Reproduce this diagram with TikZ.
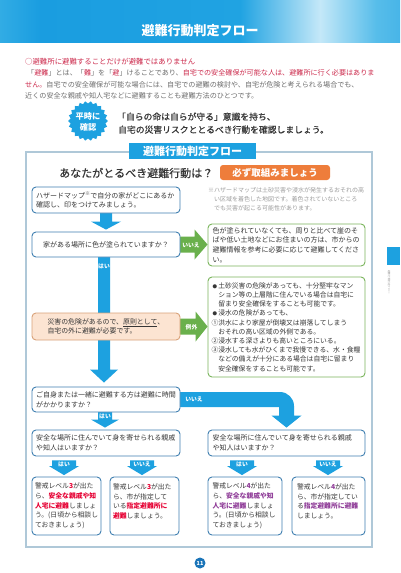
\documentclass[tikz,border=0pt]{standalone}
\usepackage{fontspec}
\setmainfont{Noto Sans CJK JP}
\newfontfamily\jpmed[FakeBold=0.6]{Noto Sans CJK JP}
\usetikzlibrary{shapes.geometric,calc}
\pgfdeclarelayer{bgzero}
\pgfdeclarelayer{background}
\pgfsetlayers{bgzero,background,main}
\definecolor{cyanA}{HTML}{1DA1E0}
\definecolor{boxblue}{HTML}{3F7FB0}
\definecolor{frameblue}{HTML}{AFC8D8}
\definecolor{greenA}{HTML}{6AB04C}
\definecolor{greenB}{HTML}{7AB55C}
\definecolor{orangeA}{HTML}{EE7D3B}
\definecolor{peach}{HTML}{FCE4D2}
\definecolor{peachline}{HTML}{D9A27A}
\definecolor{redT}{HTML}{CC2A4C}
\definecolor{redL}{HTML}{E60033}
\definecolor{purp}{HTML}{8F3C98}
\definecolor{grayT}{HTML}{6E6E6E}
\definecolor{darkT}{HTML}{363636}
\definecolor{noteT}{HTML}{9C9C9C}
\definecolor{pagebl}{HTML}{1A74B8}
\definecolor{bnA}{HTML}{2AAAE2}
\definecolor{bnB}{HTML}{6CC6EE}
\definecolor{bnC}{HTML}{E4F5FC}
\definecolor{bnD}{HTML}{3BB2E6}
\definecolor{bnE}{HTML}{1A9DE0}
\definecolor{bnF}{HTML}{20A3E2}
\definecolor{bnG}{HTML}{C4E8F8}
\definecolor{bnH}{HTML}{57BDEA}
\definecolor{bnI}{HTML}{7CCDF1}
\pgfdeclarehorizontalshading{bannershade}{100bp}{color(0bp)=(bnA); color(12bp)=(bnB); color(18bp)=(bnC); color(23bp)=(bnD); color(30bp)=(bnE); color(55bp)=(bnF); color(65bp)=(bnG); color(72bp)=(bnH); color(84bp)=(bnE); color(100bp)=(bnI)}
\newcommand\txr[1]{\textcolor{redT}{#1}}
\newcommand\txlr[1]{\textcolor{redL}{\bfseries #1}}
\newcommand\txlrb[1]{\textcolor{redL}{\bfseries #1}}
\newcommand\txp[1]{\textcolor{purp}{\bfseries #1}}
\newcommand\txpb[1]{\textcolor{purp}{\bfseries #1}}
% down block arrow: color, from, to, x offset, stem half, head half, head length, gap above tip, gap below source
\newcommand\dnarr[9]{%
 \fill[#1] let \p1=(#2.south), \p2=(#3.north) in
 ({\x2+#4-#5},{\y1-#9}) -- ({\x2+#4+#5},{\y1-#9}) -- ({\x2+#4+#5},{\y2+#8+#7}) -- ({\x2+#4+#6},{\y2+#8+#7}) -- ({\x2+#4},{\y2+#8}) -- ({\x2+#4-#6},{\y2+#8+#7}) -- ({\x2+#4-#5},{\y2+#8+#7}) -- cycle;}
% right block arrow: color, from, to, stem half, head half, head length
\newcommand\rtarr[6]{%
 \fill[#1] let \p1=(#2.east), \p2=(#3.west) in
 ({\x1-1pt},{\y1+#4}) -- ({\x2-#6},{\y1+#4}) -- ({\x2-#6},{\y1+#5}) -- (\x2,\y1) -- ({\x2-#6},{\y1-#5}) -- ({\x2-#6},{\y1-#4}) -- ({\x1-1pt},{\y1-#4}) -- cycle;}
\begin{document}
\begin{tikzpicture}[x=1pt,y=-1pt,
 flowbox/.style={draw=boxblue, line width=0.9pt, rounded corners=4pt, fill=white, inner ysep=0pt, align=left, text=darkT, font=\fontsize{7}{9.8}\selectfont},
 sixbox/.style={flowbox, minimum height=58pt, font=\fontsize{6.8}{9.7}\selectfont},
 lbl/.style={text=white, inner sep=0pt, font=\bfseries\fontsize{5.8}{5.8}\selectfont},
 ptext/.style={anchor=base west, inner sep=0pt, text=grayT, font=\fontsize{7.1}{7.1}\selectfont},
 ]
\useasboundingbox (0,0) rectangle (400,573);
\begin{pgfonlayer}{bgzero}
\fill[white] (0,0) rectangle (400,573);
\shade[shading=bannershade] (0,0) rectangle (400,42);
\draw[frameblue, line width=1.2pt] (26,152) rectangle (372,547);
\fill[cyanA] (387,247) rectangle (400,265);
\end{pgfonlayer}

% header
\node[text=white, inner sep=0pt, font=\bfseries\fontsize{13}{13}\selectfont] (title) at (200,31) {避難行動判定フロー};

% intro paragraph
\node[anchor=base west, inner sep=0pt, text=redT, font=\fontsize{7.4}{7.4}\selectfont] (p1) at (25,64.5) {○避難所に避難することだけが避難ではありません};
\node[ptext] (p2) at (27,75.5) {「\txr{避難}」とは、「\txr{難}」を「\txr{避}」けることであり、\txr{自宅での安全確保が可能な人は、避難所に行く必要はありま}};
\node[ptext] (p3) at (25,87) {\txr{せん。}自宅での安全確保が可能な場合には、自宅での避難の検討や、自宅が危険と考えられる場合でも、};
\node[ptext] (p4) at (25,98.5) {近くの安全な親戚や知人宅などに避難することも避難方法のひとつです。};

% badge
\node[star, star points=22, star point ratio=0.88, minimum size=35pt, inner sep=0pt, fill=cyanA] (badge) at (88,121) {};
\node[align=center, text=white, inner sep=0pt, font=\bfseries\fontsize{8.2}{11.5}\selectfont] (badgeT) at (88,122) {平時に\\確認};
\node[anchor=base west, inner sep=0pt, text=darkT, font=\jpmed\fontsize{8.8}{8.8}\selectfont] (m1) at (117,120) {「自らの命は自らが守る」意識を持ち、};
\node[anchor=base west, inner sep=0pt, text=darkT, font=\jpmed\fontsize{8.8}{8.8}\selectfont] (m2) at (118,133) {自宅の災害リスクととるべき行動を確認しましょう。};

% frame title
\node[fill=cyanA, minimum width=127pt, minimum height=16pt, inner sep=0pt, text=white, font=\bfseries\fontsize{11}{11}\selectfont] (ftitle) at (192.5,151) {避難行動判定フロー};
\node[anchor=base west, inner sep=0pt, text=darkT, font=\jpmed\fontsize{11}{11}\selectfont] (q0) at (59,177.2) {あなたがとるべき避難行動は？};
\node[fill=orangeA, rounded corners=3pt, minimum width=110pt, minimum height=15pt, inner sep=0pt, text=white, font=\bfseries\fontsize{9.5}{9.5}\selectfont] (must) at (275,172.5) {必ず取組みましょう};

% boxes
\node[flowbox, text width=140pt, inner xsep=4pt, minimum height=26pt] (b1) at (106,200) {ハザードマップ\textsuperscript{※}で自分の家がどこにあるか\\確認し、印をつけてみましょう。};
\node[anchor=north west, align=left, inner sep=0pt, text=noteT, font=\fontsize{6}{9}\selectfont] (note) at (208,187) {※ハザードマップは土砂災害や浸水が発生するおそれの高\\\hspace*{1em}い区域を着色した地図です。着色されていないところ\\\hspace*{1em}でも災害が起こる可能性があります。};

\node[flowbox, align=center, text width=140pt, inner xsep=4pt, minimum height=25pt] (b2) at (106,244.5) {家がある場所に色が塗られていますか？};

\node[flowbox, draw=greenB, text width=148pt, inner xsep=4.5pt, minimum height=42pt, font=\fontsize{7}{9.6}\selectfont] (gA) at (286.5,245) {色が塗られていなくても、周りと比べて崖のそ\\ばや低い土地などにお住まいの方は、市からの\\避難情報を参考に必要に応じて避難してくださ\\い。};

\node[flowbox, draw=peachline, fill=peach, text width=117pt, inner xsep=15.5pt, minimum height=27pt, font=\fontsize{6.9}{9.6}\selectfont] (b3) at (106,326.5) {災害の危険があるので、\underline{原則として}、\\自宅の外に避難が必要です。};

\node[flowbox, draw=greenB, text width=150pt, inner xsep=3.5pt, minimum height=100pt, font=\fontsize{6.8}{9.2}\selectfont] (gB) at (286.5,327) {\makebox[1em]{\fontsize{4.5}{4.5}\selectfont ●}土砂災害の危険があっても、十分堅牢なマン\\\hspace*{1em}ション等の上層階に住んでいる場合は自宅に\\\hspace*{1em}留まり安全確保をすることも可能です。\\\makebox[1em]{\fontsize{4.5}{4.5}\selectfont ●}浸水の危険があっても、\\①洪水により家屋が倒壊又は崩落してしまう\\\hspace*{1em}おそれの高い区域の外側である。\\②浸水する深さよりも高いところにいる。\\③浸水しても水がひくまで我慢できる、水・食糧\\\hspace*{1em}などの備えが十分にある場合は自宅に留まり\\\hspace*{1em}安全確保をすることも可能です。};

\node[flowbox, text width=140pt, inner xsep=4pt, minimum height=25pt] (b4) at (106,399.5) {ご自身または一緒に避難する方は避難に時間\\がかかりますか？};

\node[flowbox, text width=140pt, inner xsep=4pt, minimum height=26pt] (b5L) at (106,443) {安全な場所に住んでいて身を寄せられる親戚\\や知人はいますか？};
\node[flowbox, text width=148pt, inner xsep=4.5pt, minimum height=26pt] (b5R) at (286.5,443) {安全な場所に住んでいて身を寄せられる親戚\\や知人はいますか？};

\node[sixbox, text width=63pt, inner xsep=3pt] (b6a) at (66.5,506) {警戒レベル\txlr{3}が出た\\ら、\txlrb{安全な親戚や知}\\\txlrb{人宅に避難}しましょ\\う。(日頃から相談し\\ておきましょう)};
\node[sixbox, text width=63pt, inner xsep=3pt] (b6b) at (144.5,506) {警戒レベル\txlr{3}が出た\\ら、市が指定して\\いる\txlrb{指定避難所に}\\\txlrb{避難}しましょう。\\\mbox{}};
\node[sixbox, text width=65pt, inner xsep=4.5pt] (b6c) at (245,506) {警戒レベル\txp{4}が出た\\ら、\txpb{安全な親戚や知}\\\txpb{人宅に避難}しましょ\\う。(日頃から相談し\\ておきましょう)};
\node[sixbox, text width=63pt, inner xsep=5pt] (b6d) at (328.5,506) {警戒レベル\txp{4}が出た\\ら、市が指定してい\\る\txpb{指定避難所に避難}\\しましょう。\\\mbox{}};

% connectors (block arrows) behind boxes
\begin{pgfonlayer}{background}
\dnarr{cyanA}{b1}{b2}{0pt}{6pt}{15pt}{8pt}{2pt}{-1pt}
\dnarr{cyanA}{b2}{b4}{-2pt}{6pt}{14pt}{13pt}{4pt}{-1pt}
\dnarr{cyanA}{b4}{b5L}{-1pt}{7pt}{14pt}{8pt}{2pt}{-1pt}
\dnarr{cyanA}{b5L}{b6a}{-2.5pt}{12pt}{15pt}{9pt}{1.5pt}{4pt}
\dnarr{cyanA}{b5L}{b6b}{-2.5pt}{12pt}{15pt}{9pt}{1.5pt}{4pt}
\dnarr{cyanA}{b5R}{b6c}{-3pt}{12pt}{15pt}{9pt}{1.5pt}{4pt}
\dnarr{cyanA}{b5R}{b6d}{-0.5pt}{12pt}{15pt}{9pt}{1.5pt}{4pt}
\rtarr{greenA}{b2}{gA}{8pt}{15pt}{13pt}
\rtarr{greenA}{b3}{gB}{8pt}{15pt}{12pt}
\fill[cyanA] let \p1=(b4.east), \p2=(b5R.north) in
 ({\x1-1pt},{\y1+7.5pt}) -- ({\x2-6.5pt},{\y1+7.5pt}) .. controls ({\x2+1.2pt},{\y1+7.5pt}) and ({\x2+7.5pt},{\y1+1.2pt}) .. ({\x2+7.5pt},{\y1-6.5pt}) -- ({\x2+7.5pt},{\y2+14pt}) -- ({\x2+15pt},{\y2+14pt}) -- ({\x2},{\y2+2pt}) -- ({\x2-15pt},{\y2+14pt}) -- ({\x2-7.5pt},{\y2+14pt}) -- ({\x2-7.5pt},{\y1-7.5pt}) -- ({\x1-1pt},{\y1-7.5pt}) -- cycle;
\end{pgfonlayer}

% arrow labels
\node[lbl] (l1) at (104,266) {はい};
\node[lbl] (l2) at (191,245) {いいえ};
\node[lbl] (l3) at (191.5,327) {例外};
\node[lbl] (l4) at (194,399.5) {いいえ};
\node[lbl] (l5) at (105,416.5) {はい};
\node[lbl] (l6) at (64,464.5) {はい};
\node[lbl] (l7) at (142,464.5) {いいえ};
\node[lbl] (l8) at (242,464.5) {はい};
\node[lbl] (l9) at (328,464.5) {いいえ};

% page number and side tab text
\node[circle, fill=pagebl, minimum size=11pt, inner sep=0pt, text=white, font=\bfseries\fontsize{5.5}{5.5}\selectfont] (pg) at (200,563) {11};
\node[rotate=-90, anchor=west, inner sep=0pt, text=noteT, font=\fontsize{2.6}{2.6}\selectfont] (side) at (389,270) {避難行動判定フロー};
\end{tikzpicture}
\end{document}
